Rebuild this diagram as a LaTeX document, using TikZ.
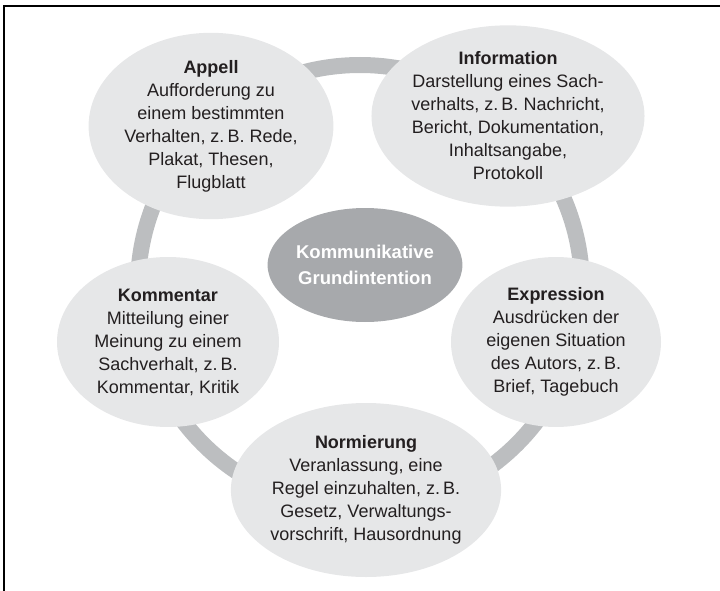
\documentclass[tikz,border=0pt]{standalone}
\usepackage{fontspec}
\setmainfont{Liberation Sans}
\usetikzlibrary{shapes.geometric}
\definecolor{bubble}{HTML}{E6E7E8}
\definecolor{ringgrey}{HTML}{BCBEC0}
\definecolor{coregrey}{HTML}{A7A9AC}
\definecolor{ink}{HTML}{231F20}
\tikzset{
  bubble/.style={ellipse, fill=bubble, inner sep=0pt, align=center, text=ink,
    font=\fontsize{18}{23}\selectfont},
  core/.style={ellipse, fill=coregrey, inner sep=0pt, align=center, text=white,
    font=\fontsize{18.5}{26}\selectfont\bfseries},
  ringline/.style={draw=ringgrey, line width=16pt},
  frameline/.style={draw=black, line width=1.8pt}
}
\begin{document}
\begin{tikzpicture}[x=1pt,y=-1pt]
\useasboundingbox (0,0) rectangle (720,591);
\coordinate (ftl) at (4,6);
\coordinate (ftr) at (720,6);
\coordinate (fbl) at (4,591);
\draw[frameline] (ftr) -- (ftl) -- (fbl);
\coordinate (ringc) at (360,287);
\draw[ringline] (ringc) circle[radius=222];
\node[core, minimum width=184, minimum height=114] (core) at (365,265)
  {Kommunikative\\Grundintention};
\node[bubble, minimum width=238, minimum height=168] (appell) at (211,126)
  {\textbf{Appell}\\Aufforderung zu\\einem bestimmten\\Verhalten, z.\,B. Rede,\\Plakat, Thesen,\\Flugblatt};
\node[bubble, minimum width=268, minimum height=180] (info) at (508,116)
  {\textbf{Information}\\Darstellung eines Sach-\\verhalts, z.\,B. Nachricht,\\Bericht, Dokumentation,\\Inhaltsangabe,\\Protokoll};
\node[bubble, minimum width=222, minimum height=170] (komm) at (168,342)
  {\textbf{Kommentar}\\Mitteilung einer\\Meinung zu einem\\Sachverhalt, z.\,B.\\Kommentar, Kritik};
\node[bubble, minimum width=210, minimum height=170] (expr) at (556,342)
  {\textbf{Expression}\\Ausdrücken der\\eigenen Situation\\des Autors, z.\,B.\\Brief, Tagebuch};
\node[bubble, minimum width=262, minimum height=174] (norm) at (366,490)
  {\textbf{Normierung}\\Veranlassung, eine\\Regel einzuhalten, z.\,B.\\Gesetz, Verwaltungs-\\vorschrift, Hausordnung};
\end{tikzpicture}
\end{document}
